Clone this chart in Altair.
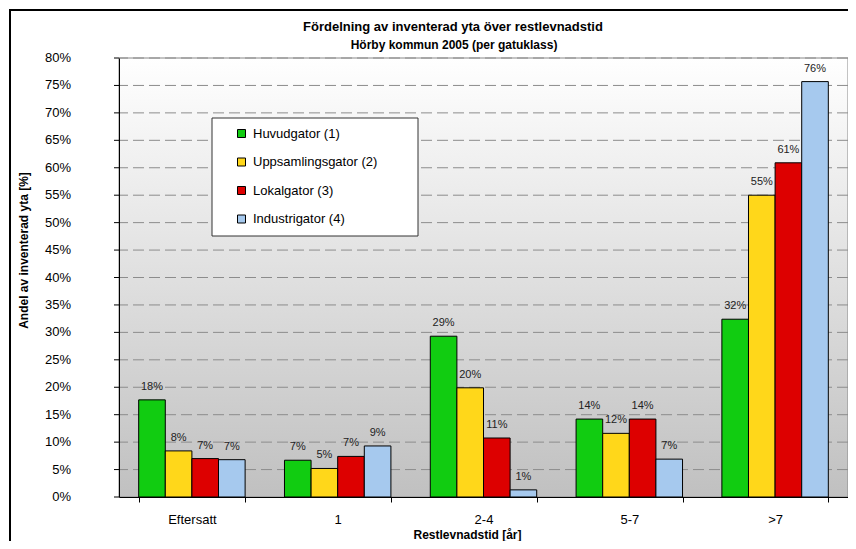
import altair as alt
import pandas as pd

categories = ["Eftersatt", "1", "2-4", "5-7", ">7"]
series = ["Huvudgator (1)", "Uppsamlingsgator (2)", "Lokalgator (3)", "Industrigator (4)"]
colors = ["#11CC11", "#FFD71A", "#DD0000", "#A6C9EE"]

huvudgator = [17.7, 6.7, 29.3, 14.2, 32.4]
uppsamlingsgator = [8.4, 5.2, 19.9, 11.6, 55.0]
lokalgator = [7.0, 7.4, 10.75, 14.2, 60.9]
industrigator = [6.8, 9.3, 1.3, 6.9, 75.7]

y_ticks = list(range(0, 81, 5))
title_text = "Fördelning av inventerad yta över restlevnadstid"
subtitle_text = "Hörby kommun 2005 (per gatuklass)"

rows = []
for s, vals in zip(series, [huvudgator, uppsamlingsgator, lokalgator, industrigator]):
    for c, v in zip(categories, vals):
        rows.append({"kategori": c, "serie": s, "andel": v, "etikett": f"{round(v):.0f}%"})
df = pd.DataFrame(rows)
tick_df = pd.DataFrame({"andel": y_ticks, "lab": [f"{t}%" for t in y_ticks]})
grid_df = tick_df[tick_df["andel"] > 0]

FONT = "Liberation Sans"
W, H = 729, 439

x_enc = alt.X(
    "kategori:N",
    sort=categories,
    scale=alt.Scale(paddingInner=0.27, paddingOuter=0.135),
    axis=alt.Axis(
        title="Restlevnadstid [år]",
        labelAngle=0,
        tickBand="extent",
        domainColor="black",
        tickColor="black",
        tickSize=5,
        labelFontSize=13,
        labelColor="black",
        labelPadding=11,
        titleFontSize=12,
        titleFontWeight="bold",
        titleColor="black",
        titleX=348,
        titleY=37,
        titleBaseline="middle",
        zindex=1,
    ),
)
xoff_enc = alt.XOffset("serie:N", sort=series, scale=alt.Scale(paddingInner=0, paddingOuter=0))
y_enc = alt.Y(
    "andel:Q",
    scale=alt.Scale(domain=[0, 80], nice=False),
    axis=alt.Axis(
        labels=False,
        ticks=False,
        grid=False,
        domainColor="black",
        title="Andel av inventerad yta [%]",
        titleFontSize=12,
        titleFontWeight="bold",
        titleColor="black",
        titleX=-89,
        titleY=192,
        titleBaseline="bottom",
        zindex=1,
    ),
)

one = alt.Data(values=[{"a": 1}])

background = alt.Chart(one).mark_rect(
    fill=alt.LinearGradient(
        gradient="linear",
        stops=[alt.GradientStop(color="#ffffff", offset=0), alt.GradientStop(color="#c0c0c0", offset=1)],
        x1=0, x2=0, y1=0, y2=1,
    ),
    stroke="#888888",
    strokeWidth=1,
).encode(x=alt.value(0), x2=alt.value(W), y=alt.value(0), y2=alt.value(H))

grid = alt.Chart(grid_df).mark_rule(color="#8c8c8c", strokeDash=[11, 5], strokeWidth=1).encode(
    y=y_enc
)
yticks = alt.Chart(tick_df).mark_rule(color="black", strokeWidth=1).encode(
    y=alt.Y("andel:Q"), x=alt.value(-5), x2=alt.value(0)
)
ylabels = alt.Chart(tick_df).mark_text(align="right", baseline="middle", fontSize=13, color="black").encode(
    y=alt.Y("andel:Q"), x=alt.value(-48), text="lab:N"
)

base = alt.Chart(df)

bars = base.mark_bar(stroke="black", strokeWidth=1).encode(
    x=x_enc,
    xOffset=xoff_enc,
    y=alt.Y("andel:Q"),
    color=alt.Color(
        "serie:N",
        sort=series,
        scale=alt.Scale(domain=series, range=colors),
        legend=alt.Legend(
            title=None,
            orient="none",
            legendX=116,
            legendY=69,
            symbolType="square",
            symbolSize=64,
            symbolStrokeColor="black",
            symbolStrokeWidth=1,
            labelFontSize=13,
            labelColor="black",
            labelOffset=5,
            rowPadding=14.5,
            padding=0,
        ),
    ),
)

labels = base.mark_text(dy=-13, fontSize=11, color="#222222", baseline="middle").encode(
    x=alt.X("kategori:N", sort=categories),
    xOffset=alt.XOffset("serie:N", sort=series),
    y=alt.Y("andel:Q"),
    text="etikett:N",
)

legend_box = alt.Chart(one).mark_rect(fill="white", stroke="#333333", strokeWidth=1).encode(
    x=alt.value(93), x2=alt.value(299), y=alt.value(60), y2=alt.value(178)
)
frame_left = alt.Chart(one).mark_rule(color="black", strokeWidth=2).encode(
    x=alt.value(-109), y=alt.value(-49), y2=alt.value(600)
)
frame_top = alt.Chart(one).mark_rule(color="black", strokeWidth=2).encode(
    x=alt.value(-110), x2=alt.value(800), y=alt.value(-48)
)
title1 = alt.Chart(one).mark_text(
    text=title_text, fontSize=13, fontWeight="bold", color="black", align="center", baseline="middle"
).encode(x=alt.value(334), y=alt.value(-31))
title2 = alt.Chart(one).mark_text(
    text=subtitle_text, fontSize=12, fontWeight="bold", color="black", align="center", baseline="middle"
).encode(x=alt.value(335), y=alt.value(-13))

chart = (
    alt.layer(background, grid, yticks, ylabels, bars, labels, legend_box, frame_left, frame_top, title1, title2)
    .properties(
        width=W,
        height=H,
        autosize=alt.AutoSizeParams(type="none"),
        padding={"left": 111, "top": 50, "right": 0, "bottom": 44},
    )
    .configure(font=FONT)
    .configure_view(stroke=None)
)

chart.save("out.html", embed_options={"renderer": "svg", "actions": False})
